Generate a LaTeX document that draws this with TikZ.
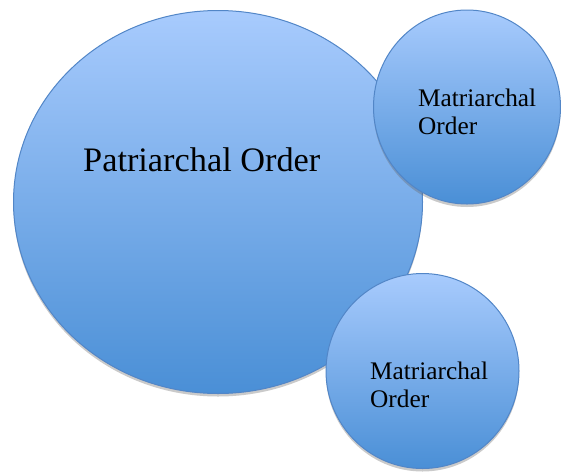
\documentclass[tikz,border=0pt]{standalone}
\usepackage{fontspec}
\setmainfont{Liberation Serif}
\usepackage{xcolor}
\usepackage{tikz}
\usetikzlibrary{shapes.geometric, shadows}
\definecolor{bubbletop}{RGB}{168, 203, 253}
\definecolor{bubblebottom}{RGB}{74, 143, 214}
\definecolor{bubbleline}{RGB}{82, 134, 199}

\begin{document}
\begin{tikzpicture}[x=1pt, y=-1pt,
    bubble/.style={ellipse, draw=bubbleline, line width=1pt, inner sep=0pt,
                top color=bubbletop, bottom color=bubblebottom,
                drop shadow={opacity=0.35, fill=black!60, shadow xshift=0pt, shadow yshift=-3pt}},
    biglabel/.style={inner sep=0pt, anchor=base west, font=\fontsize{34.3}{40}\selectfont},
    smalllabel/.style={inner sep=0pt, anchor=north west, align=left,
                font=\fontsize{25.3}{28}\selectfont}
]
    \useasboundingbox (0,0) rectangle (561,472);

    \node[bubble, minimum width=409pt, minimum height=383pt] (patriarchal) at (218,202) {};
    \node[bubble, minimum width=187pt, minimum height=194pt] (matritop) at (467,107) {};
    \node[bubble, minimum width=193pt, minimum height=195pt] (matribottom) at (422.5,371) {};

    \node[biglabel] (patlabel) at (83,171) {Patriarchal Order};
    \node[smalllabel] (toplabel) at (418,89) {Matriarchal\\Order};
    \node[smalllabel] (bottomlabel) at (370,362) {Matriarchal\\Order};
\end{tikzpicture}
\end{document}
